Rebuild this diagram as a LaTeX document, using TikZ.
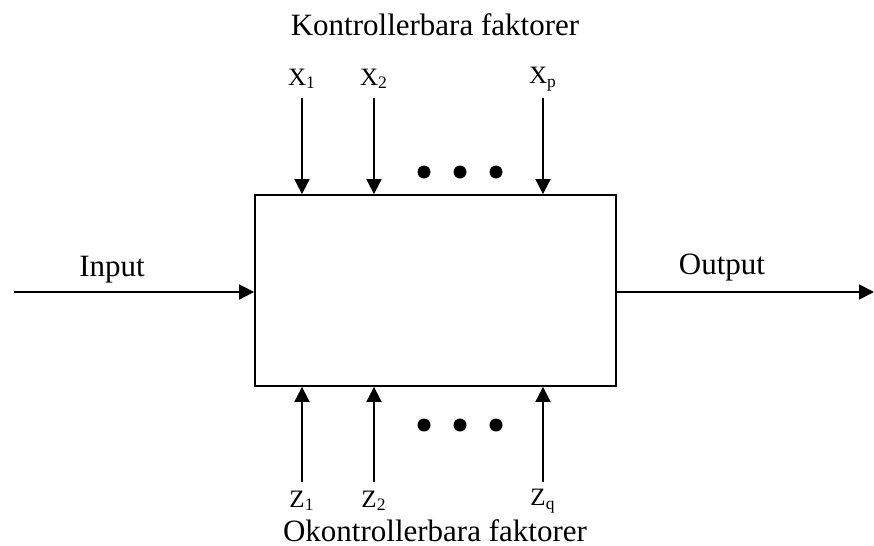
\documentclass[tikz,border=0pt]{standalone}
\usepackage{fontspec}
\setmainfont{Liberation Serif}
\usetikzlibrary{arrows.meta}

\tikzset{
    flow/.style={-{Triangle[length=7.5pt,width=7.5pt]}, line width=0.9pt},
    lbl/.style={font=\fontsize{15.5}{18}\selectfont, inner sep=1pt},
    sublbl/.style={font=\fontsize{12.5}{15}\selectfont, inner sep=1pt},
    bigdot/.style={circle, fill, inner sep=0pt, minimum size=6.5pt}
}

\begin{document}
\begin{tikzpicture}[x=0.5pt,y=-0.5pt]
    \useasboundingbox (0,0) rectangle (874,546);
    % The process box
    \node[draw, line width=0.9pt, minimum width=180.5pt, minimum height=95.5pt, inner sep=0pt] (box) at (435.5,290.5) {};

    % Input and output
    \coordinate (in) at (14,292);
    \coordinate (out) at (874,292);
    \draw[flow] (in) -- (in -| box.west);
    \draw[flow] (box.east |- out) -- (out);
    \node[lbl] (input) at (112,270) {Input};
    \node[lbl] (output) at (722,268) {Output};

    % Controllable factors above the box
    \node[lbl] (ctrl) at (435,25) {Kontrollerbara faktorer};
    \foreach \x/\n in {302/1, 374/2, 543/p} {
        \node[sublbl] (x\n) at (\x,79) {X\textsubscript{\n}};
        \coordinate (xs\n) at (\x,98);
        \draw[flow] (xs\n) -- (xs\n |- box.north);
    }

    % Uncontrollable factors below the box
    \foreach \x/\n in {302/1, 374/2, 543/q} {
        \node[sublbl] (z\n) at (\x,501) {Z\textsubscript{\n}};
        \coordinate (zs\n) at (\x,482);
        \draw[flow] (zs\n) -- (zs\n |- box.south);
    }
    \node[lbl] (unctrl) at (435,531) {Okontrollerbara faktorer};

    % Dots
    \foreach \x in {424,460,496} {
        \node[bigdot] (dt\x) at (\x,172) {};
        \node[bigdot] (db\x) at (\x,425) {};
    }
\end{tikzpicture}
\end{document}
